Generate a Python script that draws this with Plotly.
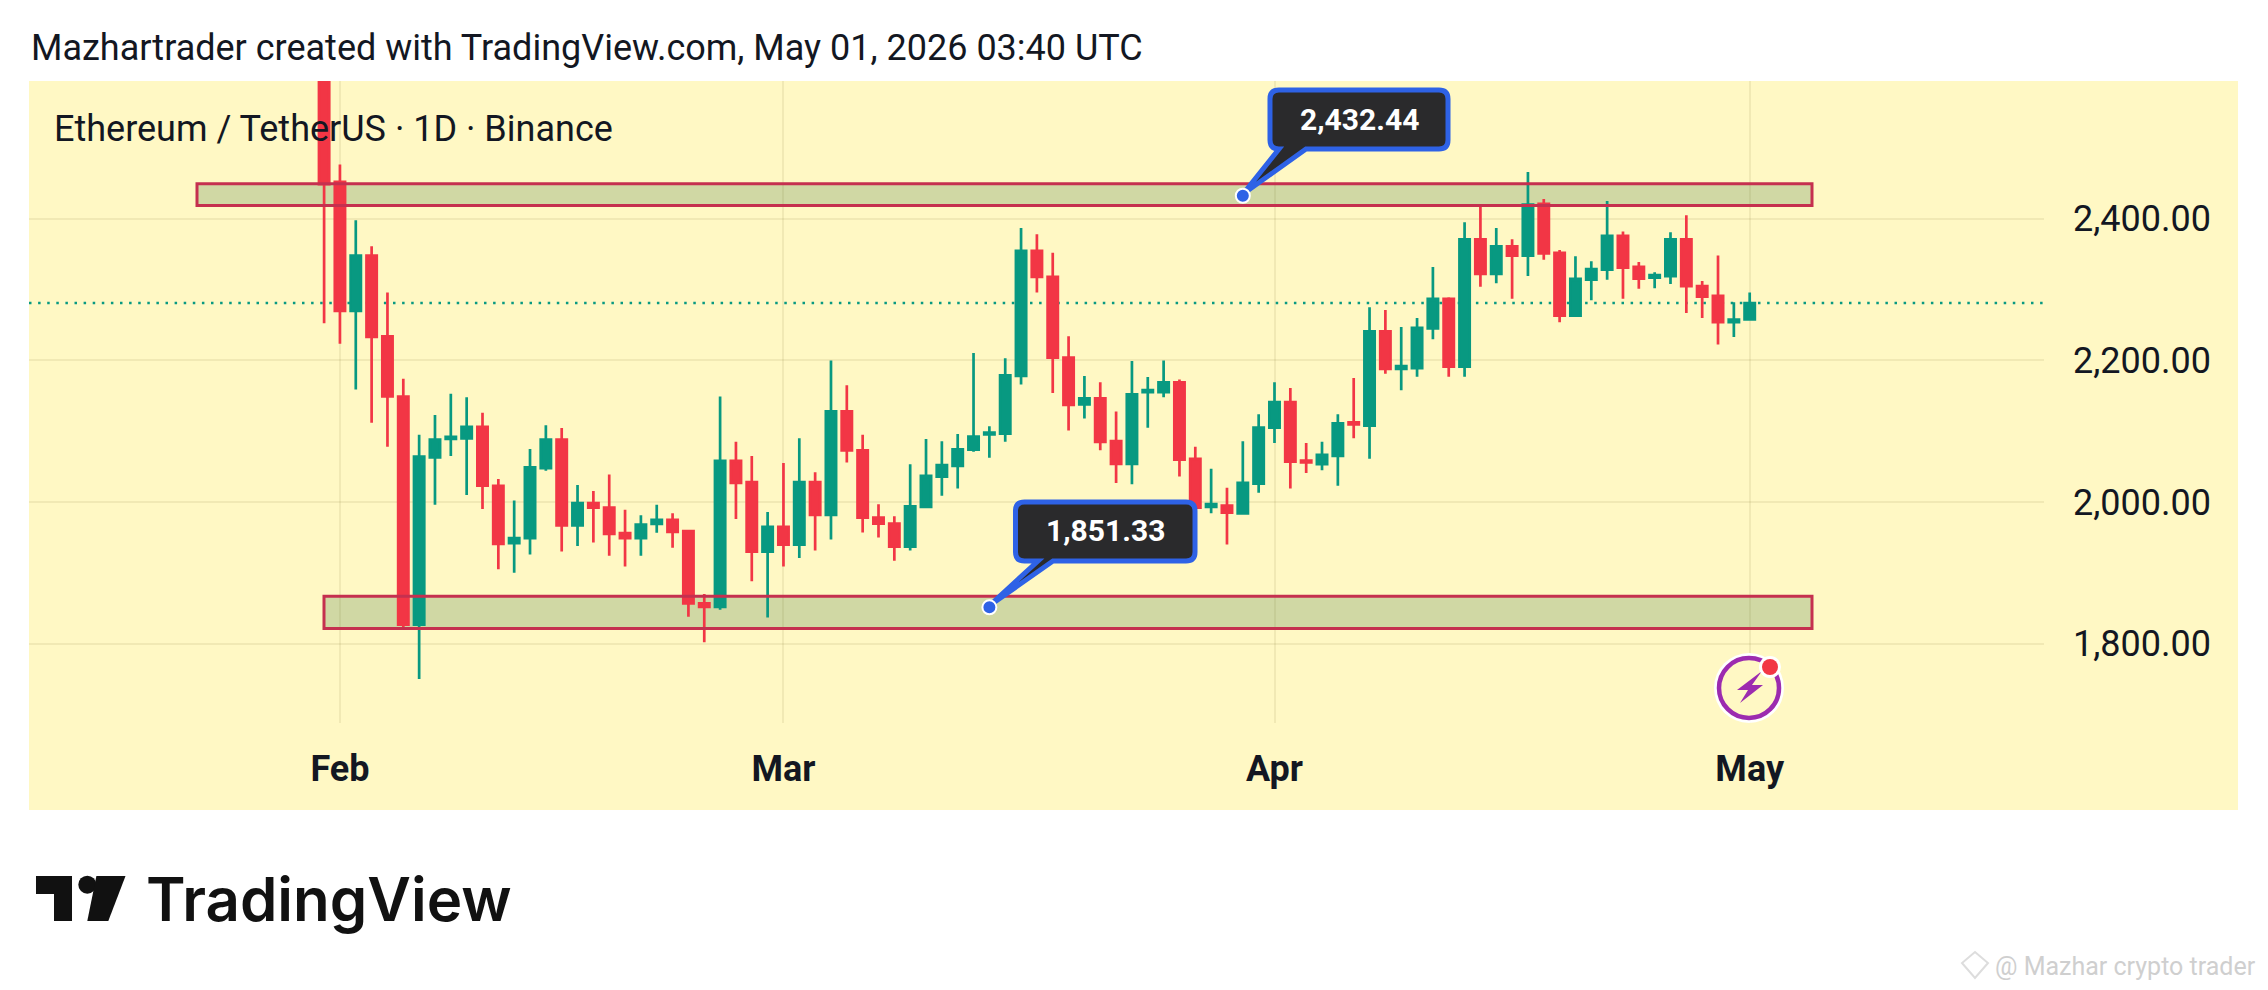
import pandas as pd
import plotly.graph_objects as go

W, H = 2268, 990
dates = pd.date_range("2026-01-31", periods=91, freq="D").strftime("%Y-%m-%d").tolist()
opens = [2700,2452,2270,2348,2234,2149,1827,2063,2089,2090,2106,2023,1942,1949,2048,2088,1967,1998.5,1992,1956,1949,1969,1975,1959,1857,1852,2058,2028,1930,
         1965,1940,2028,1982,2128,2073,1978,1969.5,1937,1993,2036,2051,2074,2095.4,2096.6,2178,2354.6,2318,2204,2138,2146.5,2086,2054,2155,2155,2169,2061,1993,1995,1984,2026,
         2105,2141,2058.6,2053.5,2065,2112.5,2108,2241,2188,2189,2245,2287,2191,2371,2322,2361,2348,2421,2352,2263,2314,2328,2376,2332,2317,2319,2371,2305,2291,2254,2258]
highs = [2720,2476.5,2398,2361,2296,2174,2095,2123,2153,2148,2126,2032.5,2002,2075,2108.5,2104.5,2024,2015.5,2039,1989,1981.5,1996,1984,1959,1870,2149,2085,2065,1986,
         2055,2090,2042,2200,2165,2095,1997,1980,2053.5,2089,2086,2096,2210.6,2107,2203,2387,2378,2352,2234,2178,2169,2128,2199,2176.5,2200,2173,2078,2047,2020,2086,2124,
         2169,2161,2083.5,2085,2124,2175,2275,2271,2247,2260,2332,2289,2395,2417,2387,2371,2466,2428,2356,2347,2340,2425,2382,2339,2324.5,2381,2405,2312,2348,2282,2296]
lows = [2252.5,2223.6,2159,2112,2078,1823,1750,1996,2065,2010,1990,1905,1900,1926,2044,1930,1938,1943,1924,1909,1924,1956.5,1935.5,1838,1802,1848,1976,1888,1837,
        1909,1921,1931.5,1947,2056,1957,1950,1917,1931.5,1992,2009,2019,2071,2062.5,2085,2166,2296,2154,2101,2118,2073,2027,2025,2105,2148,2036,1972,1984,1940,1982.5,2013,
        2083.5,2019,2041,2045,2023,2090,2061,2181,2158,2177,2230,2177,2177,2304,2309,2287,2319,2342,2254,2262,2285,2314,2287,2301,2302,2308,2267,2260,2222.5,2233,2257]
closes = [2449,2270,2348,2233,2149,1827,2064,2088,2092,2106,2023,1941,1949,2049,2088,1967,1998.5,1992,1955,1949,1968,1975,1958,1857,1852,2058,2027,1930,1965,
          1940,2028,1982,2128,2073,1978,1969.5,1937,1994,2037,2052,2074.5,2092.5,2098,2179,2354.6,2318,2204,2137,2146.5,2085,2054,2152,2158,2169,2060,1992,1997,1985,2027,2105,
          2141,2057,2056,2066.5,2111,2109.6,2241,2188,2192,2246,2287,2191,2371,2322,2361,2348,2420,2351,2263,2315,2329,2376,2331,2315.5,2320.6,2371,2305,2290,2254,2257.6,2281]

month_ticks = ["2026-02-01", "2026-03-01", "2026-04-01", "2026-05-01"]
month_labels = ["Feb", "Mar", "Apr", "May"]
price_ticks = [1800, 2000, 2200, 2400]
price_labels = ["1,800.00", "2,000.00", "2,200.00", "2,400.00"]
callout_dates = ["2026-03-30", "2026-03-14"]
callout_prices = [2432.44, 1851.33]
callout_labels = ["2,432.44", "1,851.33"]
last_price = 2281
zone_top = (2418.7, 2449.3)
zone_bottom = (1821.5, 1867)

GREEN, RED = "#089981", "#F23645"
YELLOW = "#FFF8C4"
BLUE = "#2E62E6"
ZONE_LINE = "#C5304F"
ZONE_FILL = "rgba(151,178,127,0.45)"
GRID = "rgba(120,110,40,0.10)"

def px(x): return x / W
def py(y): return 1 - y / H

def pth(points, close=True):
    s = "M " + " L ".join(f"{px(a):.5f},{py(b):.5f}" for a, b in points)
    return s + (" Z" if close else "")

def bubble(x0, y0, x1, y1, r, t0, t1, tip):
    def P(a, b): return f"{px(a):.5f},{py(b):.5f}"
    return (f"M {P(x0+r,y0)} L {P(x1-r,y0)} Q {P(x1,y0)} {P(x1,y0+r)} L {P(x1,y1-r)} Q {P(x1,y1)} {P(x1-r,y1)} "
            f"L {P(t1,y1)} L {P(*tip)} L {P(t0,y1)} L {P(x0+r,y1)} Q {P(x0,y1)} {P(x0,y1-r)} L {P(x0,y0+r)} Q {P(x0,y0)} {P(x0+r,y0)} Z")

fig = go.Figure()
fig.add_trace(go.Candlestick(
    x=dates, open=opens, high=highs, low=lows, close=closes,
    increasing=dict(line=dict(color=GREEN, width=2.7), fillcolor=GREEN),
    decreasing=dict(line=dict(color=RED, width=2.7), fillcolor=RED),
    whiskerwidth=0, showlegend=False, hoverinfo="skip"))

shapes = [
    dict(type="rect", xref="paper", yref="paper", x0=px(29), x1=px(2238), y0=py(810), y1=py(81),
         fillcolor=YELLOW, line_width=0, layer="below"),
    dict(type="rect", xref="paper", yref="y", x0=px(197), x1=px(1812), y0=zone_top[0], y1=zone_top[1],
         fillcolor=ZONE_FILL, line_width=0, layer="between"),
    dict(type="rect", xref="paper", yref="y", x0=px(324), x1=px(1812), y0=zone_bottom[0], y1=zone_bottom[1],
         fillcolor=ZONE_FILL, line_width=0, layer="between"),
    dict(type="rect", xref="paper", yref="y", x0=px(197), x1=px(1812), y0=zone_top[0], y1=zone_top[1],
         fillcolor="rgba(0,0,0,0)", line=dict(color=ZONE_LINE, width=3), layer="above"),
    dict(type="rect", xref="paper", yref="y", x0=px(324), x1=px(1812), y0=zone_bottom[0], y1=zone_bottom[1],
         fillcolor="rgba(0,0,0,0)", line=dict(color=ZONE_LINE, width=3), layer="above"),
    dict(type="line", xref="paper", yref="y", x0=px(29), x1=px(2044), y0=last_price, y1=last_price,
         line=dict(color=GREEN, width=2.5, dash="2.5px,6.6px"), layer="between"),
    # callouts
    dict(type="path", xref="paper", yref="paper", path=bubble(1270, 90, 1448, 149, 9, 1279, 1306, (1243, 194)),
         fillcolor="#2A2A2C", line=dict(color=BLUE, width=5), layer="above"),
    dict(type="path", xref="paper", yref="paper", path=bubble(1015.5, 502, 1195, 561, 9, 1038, 1053, (989, 606)),
         fillcolor="#2A2A2C", line=dict(color=BLUE, width=5), layer="above"),
    # lightning badge
    dict(type="circle", xref="paper", yref="paper", x0=px(1714), x1=px(1784), y0=py(723), y1=py(653),
         fillcolor="#FFFFFF", line_width=0, layer="above"),
    dict(type="circle", xref="paper", yref="paper", x0=px(1719), x1=px(1779), y0=py(718), y1=py(658),
         fillcolor=YELLOW, line=dict(color="#9C2BAF", width=4.5), layer="above"),
    dict(type="path", xref="paper", yref="paper",
         path=pth([(1762, 671), (1737, 690), (1748, 690), (1740, 703), (1763, 685), (1752, 685)]),
         fillcolor="#9C2BAF", line_width=0, layer="above"),
    dict(type="circle", xref="paper", yref="paper", x0=px(1759), x1=px(1781), y0=py(678), y1=py(656),
         fillcolor="#FFFFFF", line_width=0, layer="above"),
    dict(type="circle", xref="paper", yref="paper", x0=px(1762), x1=px(1778), y0=py(675), y1=py(659),
         fillcolor="#F23645", line_width=0, layer="above"),
    # TradingView mark
    dict(type="path", xref="paper", yref="paper",
         path=pth([(36, 876), (72, 876), (72, 921), (54, 921), (54, 894), (36, 894)]),
         fillcolor="#111111", line_width=0, layer="above"),
    dict(type="circle", xref="paper", yref="paper", x0=px(78.3), x1=px(96.3), y0=py(893.7), y1=py(875.7),
         fillcolor="#111111", line_width=0, layer="above"),
    dict(type="path", xref="paper", yref="paper",
         path=pth([(96.4, 876), (125.5, 876), (108.3, 921), (87.3, 921)]),
         fillcolor="#111111", line_width=0, layer="above"),
    # watermark icon
    dict(type="path", xref="paper", yref="paper",
         path=pth([(1975, 952), (1988, 963), (1975, 978), (1962, 963)]),
         fillcolor="rgba(0,0,0,0)", line=dict(color="#DDDDDD", width=2), layer="above"),
]
# callout anchor dots, placed on the data
for d, p in zip(callout_dates, callout_prices):
    shapes.append(dict(type="circle", xref="x", yref="y", xsizemode="pixel", ysizemode="pixel",
                       xanchor=d, yanchor=p, x0=-7, x1=7, y0=-7, y1=7,
                       fillcolor=BLUE, line=dict(color="#FFFFFF", width=2), layer="above"))

def label(text, x, y, size, color="#131722", xanchor="left", weight=400, family="Roboto"):
    return dict(text=text, xref="paper", yref="paper", x=px(x), y=py(y), xanchor=xanchor, yanchor="middle",
                showarrow=False, font=dict(family=family, size=size, color=color, weight=weight))

annotations = [
    label("Mazhartrader created with TradingView.com, May 01, 2026 03:40 UTC", 29, 47.5, 36),
    label("Ethereum / TetherUS · 1D · Binance", 52, 128.5, 36),
    label(callout_labels[0], 1359, 119, 30, "#FFFFFF", "center", 700),
    label(callout_labels[1], 1105.5, 530, 30, "#FFFFFF", "center", 700),
    label("TradingView", 144, 899, 60, "#111111", "left", 600, "Inter"),
    label("@ Mazhar crypto trader", 1993, 966, 25, "#CFCFCF", "left"),
]

fig.update_layout(
    width=W, height=H, margin=dict(l=0, r=0, t=0, b=0), autosize=False,
    paper_bgcolor="#FFFFFF", plot_bgcolor="rgba(0,0,0,0)",
    showlegend=False, boxgap=0.2, boxgroupgap=0.19, shapes=shapes, annotations=annotations,
    xaxis=dict(domain=[px(29), px(2044)], range=["2026-01-12 08:53", "2026-05-19 13:55"], type="date",
               rangeslider=dict(visible=False), tickmode="array", tickvals=month_ticks, ticktext=month_labels,
               showgrid=True, gridcolor=GRID, gridwidth=2, zeroline=False, showline=False, ticks="",
               ticklabelstandoff=21, tickfont=dict(family="Roboto", size=36, color="#131722", weight=700)),
    yaxis=dict(domain=[py(723), py(81)], range=[1688, 2594.5], side="right", anchor="x",
               tickmode="array", tickvals=price_ticks, ticktext=price_labels,
               showgrid=True, gridcolor=GRID, gridwidth=2, zeroline=False, showline=False, ticks="",
               ticklabelstandoff=28, tickfont=dict(family="Roboto", size=36, color="#131722")),
)

fig.write_html("out.html", config=dict(displayModeBar=False),
               post_script="document.body.style.margin='0';")
